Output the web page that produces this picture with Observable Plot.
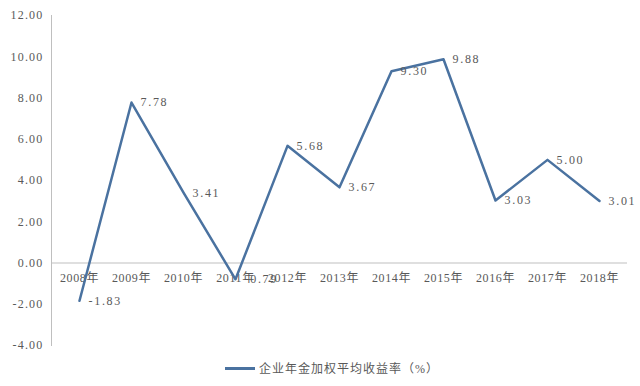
<!DOCTYPE html>
<html><head><meta charset="utf-8">
<script src="https://cdn.jsdelivr.net/npm/d3@7"></script>
<script src="https://cdn.jsdelivr.net/npm/@observablehq/plot@0.6"></script>
<style>
body{margin:0;background:#fff;}
#chart{width:640px;}
.legend{display:flex;align-items:center;justify-content:flex-start;padding-left:225px;height:28px;font-family:"Liberation Serif","Noto Sans CJK SC",serif;font-size:12px;color:#595959;letter-spacing:1px;}
.legend .sw{width:30px;height:3px;background:#4a72a0;margin-right:4px;}
.yax text{letter-spacing:1.2px;}
.dl text{letter-spacing:1.7px;}
.xl text{letter-spacing:0.6px;}
</style>
</head><body>
<div id="chart"></div>
<script>
const years = ["2008年","2009年","2010年","2011年","2012年","2013年","2014年","2015年","2016年","2017年","2018年"];
const returns = [-1.83, 7.78, 3.41, -0.79, 5.68, 3.67, 9.30, 9.88, 3.03, 5.00, 3.01];
const yTicks = [-4, -2, 0, 2, 4, 6, 8, 10, 12];
const seriesName = "企业年金加权平均收益率（%）";

const data = years.map((y, i) => ({year: y, value: returns[i]}));
const font = "'Liberation Serif','Noto Sans CJK SC',serif";

const plot = Plot.plot({
  width: 640,
  height: 354,
  marginLeft: 51,
  marginRight: 13,
  marginTop: 15,
  marginBottom: 9,
  style: {fontFamily: font, fontSize: "12px", color: "#595959", background: "#fff"},
  x: {type: "point", domain: years, padding: 0.5, axis: null},
  y: {domain: [-4, 12], label: null, axis: null},
  marks: [
    Plot.axisY({ticks: yTicks, tickFormat: d => d.toFixed(2), tickSize: 0, tickPadding: 8, label: null, fill: "#595959", fontSize: 12, className: "yax"}),
    Plot.ruleY([0], {stroke: "#bfbfbf", strokeWidth: 1}),
    Plot.ruleX([years[0]], {x: () => years[0], stroke: "none"}),
    Plot.frame({anchor: "left", stroke: "#bfbfbf"}),
    Plot.text(years, {x: d => d, y: () => 0, dy: 15, text: d => d, fill: "#595959", fontSize: 12, className: "xl"}),
    Plot.line(data, {x: "year", y: "value", stroke: "#4a72a0", strokeWidth: 2.5}),
    Plot.text(data, {x: "year", y: "value", text: d => d.value.toFixed(2), dx: 9, textAnchor: "start", fill: "#595959", fontSize: 12, className: "dl"})
  ]
});
document.getElementById("chart").appendChild(plot);
const lg = document.createElement("div");
lg.className = "legend";
lg.innerHTML = '<span class="sw"></span><span></span>';
lg.lastChild.textContent = seriesName;
document.getElementById("chart").appendChild(lg);
</script>
</body></html>
